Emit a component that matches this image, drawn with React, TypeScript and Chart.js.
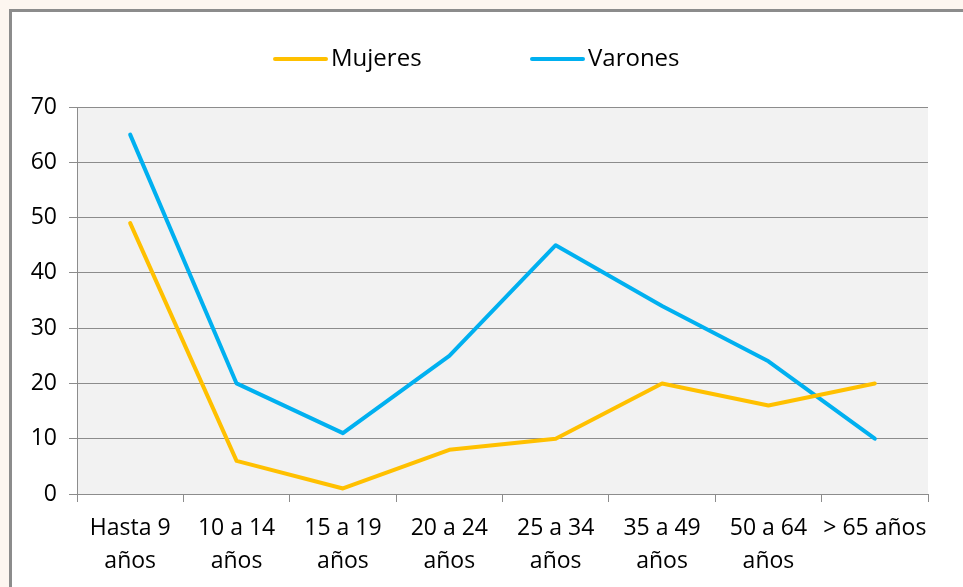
import React, { useEffect, useRef } from "react";
import { Chart, registerables } from "chart.js";

Chart.register(...registerables);

const categories: (string | string[])[] = [
  ["Hasta 9", "años"],
  ["10 a 14", "años"],
  ["15 a 19", "años"],
  ["20 a 24", "años"],
  ["25 a 34", "años"],
  ["35 a 49", "años"],
  ["50 a 64", "años"],
  ["> 65 años"],
];
const mujeres = [49, 6, 1, 8, 10, 20, 16, 20];
const varones = [65, 20, 11, 25, 45, 34, 24, 10];
const seriesNames = ["Mujeres", "Varones"];
const seriesColors = ["#FFC000", "#00B0F0"];
const yMin = 0;
const yMax = 70;
const yStep = 10;

const FONT = "'Open Sans', 'DejaVu Sans', sans-serif";

const plotBg = {
  id: "plotBg",
  beforeDraw(chart: any) {
    const { ctx, chartArea } = chart;
    ctx.save();
    ctx.fillStyle = "#F2F2F2";
    ctx.fillRect(chartArea.left, chartArea.top, chartArea.right - chartArea.left, chartArea.bottom - chartArea.top);
    ctx.restore();
  },
};

const customLegend = {
  id: "customLegend",
  afterDraw(chart: any) {
    const { ctx } = chart;
    const ds = chart.data.datasets;
    ctx.save();
    ctx.font = `24px ${FONT}`;
    ctx.textBaseline = "middle";
    const lineW = 55;
    const gap = 3;
    const itemPitch = 257;
    let x = chart.width / 2 - 208.5;
    const y = 59;
    ds.forEach((d: any) => {
      ctx.strokeStyle = d.borderColor;
      ctx.lineWidth = 4;
      ctx.lineCap = "round";
      ctx.beginPath();
      ctx.moveTo(x + 2, y);
      ctx.lineTo(x + lineW - 2, y);
      ctx.stroke();
      ctx.fillStyle = "#000";
      ctx.fillText(d.label, x + lineW + gap, y);
      x += itemPitch;
    });
    ctx.restore();
  },
};

export default function App() {
  const ref = useRef<HTMLCanvasElement>(null);
  useEffect(() => {
    if (!ref.current) return;
    const chart = new Chart(ref.current, {
      type: "line",
      data: {
        labels: categories,
        datasets: [
          {
            label: seriesNames[0],
            data: mujeres,
            borderColor: seriesColors[0],
            backgroundColor: seriesColors[0],
            borderWidth: 4,
            pointRadius: 0,
            tension: 0,
            borderCapStyle: "round",
            borderJoinStyle: "round",
          },
          {
            label: seriesNames[1],
            data: varones,
            borderColor: seriesColors[1],
            backgroundColor: seriesColors[1],
            borderWidth: 4,
            pointRadius: 0,
            tension: 0,
            borderCapStyle: "round",
            borderJoinStyle: "round",
          },
        ],
      },
      options: {
        animation: false,
        responsive: false,
        layout: { padding: { top: 107, right: 35, left: 0, bottom: 0 } },
        plugins: { legend: { display: false }, tooltip: { enabled: false } },
        scales: {
          x: {
            offset: true,
            grid: {
              offset: true,
              drawOnChartArea: false,
              drawTicks: true,
              tickLength: 8,
              color: "#8C8C8C",
            },
            border: { color: "#8C8C8C", width: 1 },
            ticks: {
              color: "#000",
              font: { family: FONT, size: 23, lineHeight: 1.42 },
              padding: 10,
              maxRotation: 0,
              autoSkip: false,
            },
            afterFit(scale: any) {
              scale.height = 93;
            },
          },
          y: {
            min: yMin,
            max: yMax,
            grid: { color: "#8C8C8C", tickLength: 8 },
            border: { color: "#8C8C8C", width: 1 },
            ticks: {
              stepSize: yStep,
              color: "#000",
              font: { family: FONT, size: 23 },
              padding: 12,
            },
            afterFit(scale: any) {
              scale.width = 77;
            },
          },
        },
      },
      plugins: [plotBg, customLegend],
    });
    return () => chart.destroy();
  }, []);

  return (
    <div style={{ position: "fixed", inset: 0, background: "#FDF6F0", overflow: "hidden" }}>
      <div
        style={{
          position: "absolute",
          left: 9,
          top: 9,
          right: -10,
          bottom: -10,
          background: "#fff",
          borderLeft: "3px solid #8C8C8C",
          borderTop: "3px solid #8C8C8C",
        }}
      />
      <canvas ref={ref} width={963} height={587} style={{ position: "absolute", left: 0, top: 0 }} />
    </div>
  );
}
